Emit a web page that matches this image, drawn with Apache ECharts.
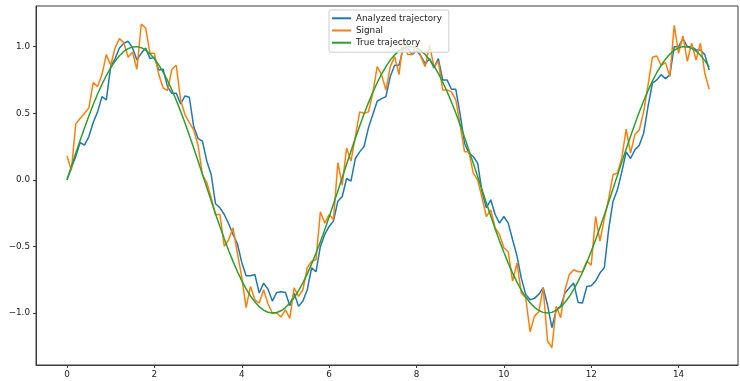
<!DOCTYPE html>
<html>
<head>
<meta charset="utf-8">
<script src="https://cdn.jsdelivr.net/npm/echarts@6/dist/echarts.min.js"></script>
<style>
html,body{margin:0;padding:0;background:#fff;}
#chart{width:740px;height:381px;}
</style>
</head>
<body>
<div id="chart"></div>
<script>
// Sampling grid: 0 .. 14.7, step 0.1 (148 samples)
const timeStart = 0;
const timeStep = 0.1;
const sampleCount = 148;

const seriesNames = ['Analyzed trajectory', 'Signal', 'True trajectory'];

const analyzed = [
  0.00, 0.09, 0.175, 0.28, 0.26, 0.325, 0.43, 0.51, 0.625, 0.60,
  0.85, 0.91, 0.99, 1.025, 1.04, 0.99, 0.90, 0.95, 0.99, 0.91,
  0.92, 0.825, 0.83, 0.70, 0.65, 0.65, 0.57, 0.63, 0.62, 0.40,
  0.31, 0.29, 0.14, 0.04, -0.18, -0.21, -0.26, -0.33, -0.41, -0.48,
  -0.62, -0.72, -0.72, -0.71, -0.85, -0.775, -0.82, -0.91, -0.845, -0.84,
  -0.845, -0.945, -0.85, -0.95, -0.91, -0.825, -0.66, -0.69, -0.50, -0.41,
  -0.35, -0.31, -0.16, -0.125, 0.01, -0.01, 0.16, 0.21, 0.25, 0.39,
  0.49, 0.59, 0.61, 0.625, 0.775, 0.86, 0.86, 0.99, 0.99, 0.94,
  0.97, 0.93, 0.87, 0.91, 0.84, 0.91, 0.75, 0.75, 0.68, 0.68,
  0.49, 0.275, 0.20, 0.175, 0.125, -0.09, -0.21, -0.15, -0.26, -0.325,
  -0.275, -0.325, -0.45, -0.57, -0.74, -0.86, -0.90, -0.89, -0.86, -0.81,
  -0.94, -1.11, -0.975, -0.95, -0.85, -0.81, -0.775, -0.92, -0.925, -0.80,
  -0.795, -0.76, -0.70, -0.66, -0.37, -0.16, -0.075, 0.06, 0.21, 0.16,
  0.225, 0.26, 0.35, 0.55, 0.725, 0.75, 0.79, 0.76, 0.79, 1.00,
  1.00, 1.06, 1.00, 1.00, 0.975, 0.975, 0.94, 0.825
];

const signal = [
  0.18, 0.07, 0.42, 0.46, 0.50, 0.54, 0.73, 0.70, 0.79, 0.94,
  0.86, 0.99, 1.06, 1.03, 0.92, 0.96, 0.83, 1.17, 1.14, 0.95,
  0.95, 0.79, 0.69, 0.67, 0.83, 0.86, 0.60, 0.49, 0.43, 0.375,
  0.26, 0.04, -0.02, -0.135, -0.26, -0.26, -0.50, -0.45, -0.36, -0.55,
  -0.73, -0.96, -0.80, -0.90, -0.925, -0.825, -0.93, -1.00, -1.00, -1.03,
  -0.975, -1.04, -0.81, -0.875, -0.825, -0.66, -0.61, -0.60, -0.24, -0.325,
  -0.26, -0.30, 0.13, -0.04, 0.24, 0.14, 0.325, 0.51, 0.50, 0.51,
  0.65, 0.85, 0.79, 0.675, 0.85, 0.925, 0.79, 1.05, 0.94, 0.94,
  1.025, 0.925, 0.85, 1.01, 0.85, 0.89, 0.675, 0.675, 0.66, 0.60,
  0.41, 0.21, 0.21, 0.05, 0.00, -0.135, -0.275, -0.225, -0.36, -0.41,
  -0.51, -0.54, -0.76, -0.625, -0.85, -0.885, -1.14, -1.025, -0.99, -0.81,
  -1.21, -1.26, -0.95, -1.035, -0.825, -0.71, -0.675, -0.69, -0.69, -0.61,
  -0.64, -0.275, -0.46, -0.29, -0.14, 0.04, 0.05, 0.165, 0.38, 0.20,
  0.34, 0.375, 0.51, 0.71, 0.92, 0.93, 0.86, 0.88, 0.775, 1.16,
  0.95, 1.08, 0.89, 1.025, 0.90, 1.025, 0.80, 0.68
];

const trueTrajectory = [
  0.000, 0.100, 0.199, 0.296, 0.389, 0.479, 0.565, 0.644, 0.717, 0.783,
  0.841, 0.891, 0.932, 0.964, 0.985, 0.997, 1.000, 0.992, 0.974, 0.946,
  0.909, 0.863, 0.808, 0.746, 0.676, 0.598, 0.516, 0.427, 0.335, 0.239,
  0.141, 0.042, -0.058, -0.158, -0.256, -0.351, -0.443, -0.530, -0.612, -0.688,
  -0.757, -0.818, -0.872, -0.916, -0.952, -0.978, -0.994, -1.000, -0.996, -0.983,
  -0.959, -0.926, -0.884, -0.832, -0.773, -0.706, -0.631, -0.551, -0.465, -0.374,
  -0.279, -0.182, -0.083, 0.017, 0.117, 0.215, 0.312, 0.405, 0.494, 0.578,
  0.657, 0.729, 0.794, 0.850, 0.899, 0.938, 0.968, 0.988, 0.999, 0.999,
  0.989, 0.970, 0.941, 0.902, 0.855, 0.799, 0.734, 0.663, 0.585, 0.501,
  0.412, 0.319, 0.223, 0.125, 0.025, -0.075, -0.174, -0.272, -0.367, -0.458,
  -0.544, -0.625, -0.700, -0.768, -0.828, -0.880, -0.923, -0.957, -0.981, -0.995,
  -1.000, -0.995, -0.979, -0.954, -0.919, -0.876, -0.823, -0.762, -0.694, -0.618,
  -0.537, -0.450, -0.358, -0.263, -0.166, -0.066, 0.034, 0.133, 0.232, 0.328,
  0.420, 0.509, 0.592, 0.670, 0.741, 0.804, 0.860, 0.906, 0.944, 0.973,
  0.991, 1.000, 0.998, 0.987, 0.966, 0.935, 0.895, 0.846
];

const xTicks = [0, 2, 4, 6, 8, 10, 12, 14];
const yTicks = [-1.0, -0.5, 0.0, 0.5, 1.0];

const times = [];
for (let i = 0; i < sampleCount; i++) times.push(+(timeStart + i * timeStep).toFixed(1));
const pairs = arr => arr.map((v, i) => [times[i], v]);

const colors = ['#1f77b4', '#ff7f0e', '#2ca02c'];
const font = 'DejaVu Sans';
const fmtNum = v => (v < 0 ? '\u2212' : '') + Math.abs(v).toFixed(1);

const chart = echarts.init(document.getElementById('chart'), null, {renderer: 'canvas'});
chart.setOption({
  animation: false,
  backgroundColor: '#fff',
  color: colors,
  textStyle: {fontFamily: font},
  grid: {
    left: 36, right: 2, top: 6, bottom: 16,
    show: true, borderColor: '#3a3a3a', borderWidth: 1, backgroundColor: 'transparent',
    containLabel: false
  },
  legend: {
    data: seriesNames,
    orient: 'vertical',
    left: 329, top: 10,
    z: 20, zlevel: 0,
    icon: 'rect',
    itemWidth: 19, itemHeight: 2,
    itemGap: 2.2,
    padding: [3.3, 7, 4.5, 3],
    backgroundColor: 'rgba(255,255,255,0.8)',
    borderColor: '#cccccc', borderWidth: 1, borderRadius: 2,
    textStyle: {fontFamily: font, fontSize: 8.8, color: '#222', lineHeight: 10, padding: [0, 0, 0, 0]}
  },
  xAxis: {
    type: 'value',
    min: -0.71, max: 15.36,
    axisLine: {show: true, onZero: false, lineStyle: {color: '#3a3a3a', width: 1}},
    axisTick: {show: true, length: 3, lineStyle: {color: '#3a3a3a'}, customValues: xTicks},
    axisLabel: {show: true, margin: 5, fontSize: 8.8, color: '#222', fontFamily: font,
      customValues: xTicks, formatter: v => String(v)},
    splitLine: {show: false}
  },
  yAxis: {
    type: 'value',
    min: -1.39, max: 1.305,
    axisLine: {show: true, onZero: false, lineStyle: {color: '#3a3a3a', width: 1}},
    axisTick: {show: true, length: 3, lineStyle: {color: '#3a3a3a'}, customValues: yTicks},
    axisLabel: {show: true, margin: 6, fontSize: 8.8, color: '#222', fontFamily: font,
      customValues: yTicks, formatter: v => fmtNum(v)},
    splitLine: {show: false}
  },
  series: [
    {name: seriesNames[0], type: 'line', data: pairs(analyzed), showSymbol: false, symbol: 'none',
      lineStyle: {width: 1.5, color: colors[0]}, itemStyle: {color: colors[0]}, z: 2},
    {name: seriesNames[1], type: 'line', data: pairs(signal), showSymbol: false, symbol: 'none',
      lineStyle: {width: 1.5, color: colors[1]}, itemStyle: {color: colors[1]}, z: 3},
    {name: seriesNames[2], type: 'line', data: pairs(trueTrajectory), showSymbol: false, symbol: 'none',
      lineStyle: {width: 1.5, color: colors[2]}, itemStyle: {color: colors[2]}, z: 4}
  ]
});
</script>
</body>
</html>
